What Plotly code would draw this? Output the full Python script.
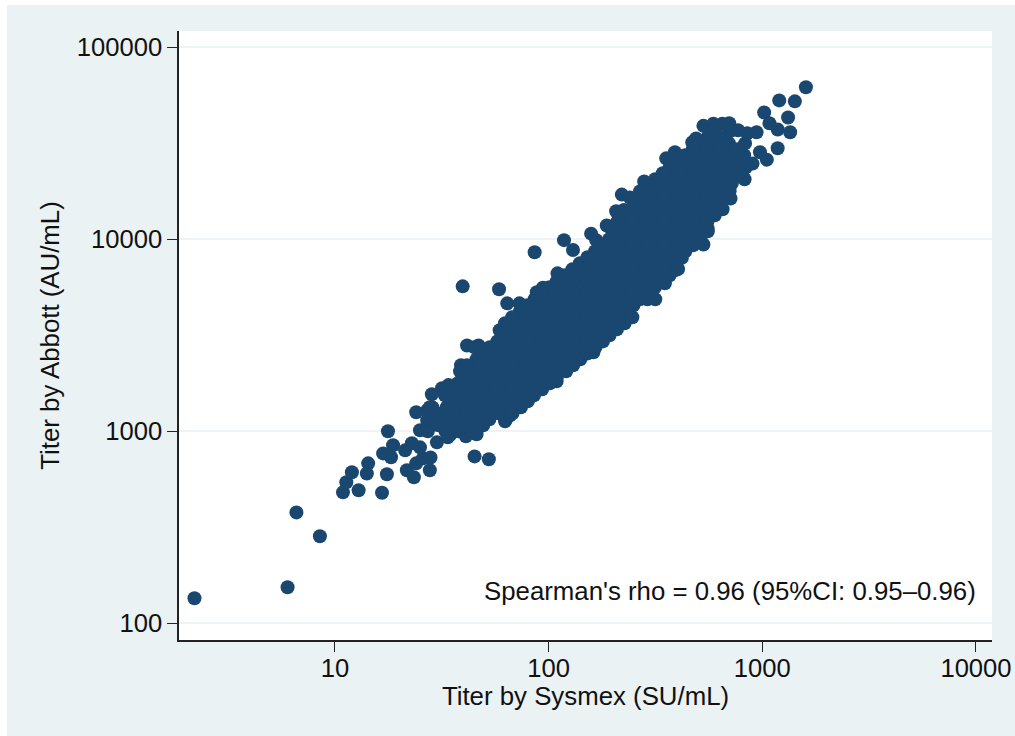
import plotly.graph_objects as go

x_tick_values = [10, 100, 1000, 10000]
y_tick_values = [100, 1000, 10000, 100000]

low_tail = [
    (2.2, 135), (6.0, 154), (6.6, 378), (8.5, 284), (10.9, 481), (12.9, 493), (16.6, 479),
    (11.3, 543), (12.0, 612), (14.1, 603), (14.3, 681), (17.5, 597), (17.7, 1000), (16.8, 767),
    (18.3, 732), (18.7, 846), (21.3, 796), (22.9, 866), (25, 825), (21.7, 627), (23.4, 576),
    (24, 681), (25.8, 723), (28, 731), (27.8, 627), (41, 942), (46, 965), (45, 740), (52.5, 715),
    (27, 1140), (29, 1110), (31, 1180), (33.5, 1330), (28.6, 1330), (36, 1570), (34.5, 955),
    (38, 1075), (44.5, 1100), (51, 1240), (58, 1365), (73, 1450),
]
stray_points = [
    (39.6, 5690), (58.6, 5490), (86, 8560), (118, 9900), (158, 10700), (187, 11800),
    (207, 14000), (220, 17100), (280, 20000), (555, 11400), (530, 9400),
]
lower_edge = [
    (24, 1257), (28.4, 1560), (31.7, 1675), (34, 1740), (27, 1286), (25, 1012), (30, 876),
    (33.7, 930), (41.5, 1183), (49, 1183), (62.5, 1127), (66, 1212), (80, 1453), (89, 1735),
    (109, 1820), (129, 2290), (162, 2580), (180, 3480), (225, 3930), (290, 4870), (350, 5900),
    (390, 6900), (420, 8000), (470, 10500), (470, 11500), (490, 13000), (530, 14200),
    (630, 15600), (710, 16300), (720, 19600), (760, 22000), (810, 21200), (860, 24800),
]
upper_edge = [
    (38.9, 2207), (41.5, 2800), (47, 2800), (59, 3360), (64, 4640), (73, 4640), (88, 5300),
    (98, 5560), (113, 6500), (94, 5600), (110, 6650), (130, 8800), (167, 9900), (225, 14200),
    (240, 16500), (320, 20200), (355, 26400), (370, 24300), (390, 28400), (470, 32000),
    (490, 33500), (530, 39000), (590, 40000), (650, 40000), (700, 40200), (770, 37000),
]
top_tail = [
    (1600, 61900), (1200, 52900), (1420, 52300), (1320, 43100), (1020, 45800), (1350, 36100),
    (1080, 40200), (1180, 37300), (940, 36100), (850, 35700), (1180, 29800), (1050, 26000),
    (975, 28400), (900, 24800),
]
body_low = [
    (27.8, 1334), (28.6, 1155), (27.2, 1000), (32.7, 1540), (33.4, 1334), (32.1, 1155), (32.9, 1000),
    (38.5, 2055), (37.6, 1780), (39.2, 1540), (38.1, 1334), (39, 1155), (37.8, 1000),
    (45, 2740), (46, 2375), (44.2, 2055), (45.6, 1780), (44.5, 1540), (46.2, 1334), (45.2, 1155), (44, 1010),
    (53, 2740), (52, 2375), (54, 2055), (53.2, 1780), (52.4, 1540), (54.3, 1334), (52.8, 1155),
    (62.5, 3655), (61.5, 3165), (63.5, 2740), (62, 2375), (63, 2055), (61.8, 1780), (62.8, 1540), (61.6, 1334), (63.2, 1155),
    (73.5, 4220), (72.5, 3655), (74.5, 3165), (73, 2740), (74, 2375), (72.8, 2055), (73.8, 1780), (72.6, 1540), (74.2, 1334),
    (86, 4870), (85, 4220), (87, 3655), (85.6, 3165), (86.6, 2740), (85.2, 2375), (87.2, 2055), (86.2, 1780), (85.4, 1540),
    (101, 5625), (100, 4870), (102, 4220), (99, 3655), (101.5, 3165), (100.4, 2740), (102.5, 2375), (99.6, 2055), (101.2, 1780),
]
body_mid = [
    (119, 6500), (117.5, 5625), (120.5, 4870), (118, 4220), (120, 3655), (118.6, 3165), (119.6, 2740), (117.8, 2375), (120.8, 2055),
    (140, 7500), (138, 6500), (142, 5625), (139, 4870), (141, 4220), (138.6, 3655), (141.6, 3165), (139.4, 2740), (140.6, 2375),
    (165, 8660), (163, 7500), (167, 6500), (164, 5625), (166, 4870), (163.5, 4220), (166.5, 3655), (164.5, 3165), (165.5, 2740),
    (194, 11550), (192, 10000), (196, 8660), (193, 7500), (195, 6500), (192.5, 5625), (195.5, 4870), (193.5, 4220), (194.5, 3655), (192.8, 3165),
    (228, 13340), (226, 11550), (230, 10000), (227, 8660), (229, 7500), (226.5, 6500), (229.5, 5625), (227.5, 4870), (228.5, 4220), (226.8, 3655),
    (268, 17800), (265, 15400), (271, 13340), (266, 11550), (270, 10000), (267, 8660), (269, 7500), (265.5, 6500), (270.5, 5625), (267.5, 4870),
]
body_high = [
    (315, 20550), (312, 17800), (318, 15400), (313, 13340), (317, 11550), (314, 10000), (316, 8660), (312.5, 7500), (317.5, 6500), (314.5, 5625), (315.5, 4870),
    (370, 23700), (366, 20550), (374, 17800), (368, 15400), (372, 13340), (367, 11550), (373, 10000), (369, 8660), (371, 7500), (368.5, 6500),
    (435, 27400), (431, 23700), (439, 20550), (433, 17800), (437, 15400), (432, 13340), (438, 11550), (434, 10000), (436, 8660),
    (512, 31600), (507, 27400), (517, 23700), (509, 20550), (515, 17800), (508, 15400), (516, 13340), (511, 11550), (513, 10000),
    (600, 36500), (594, 31600), (606, 27400), (597, 23700), (603, 20550), (595, 17800), (605, 15400), (599, 13340),
    (705, 36500), (698, 31600), (712, 27400), (701, 23700), (709, 20550), (703, 17800),
    (830, 31600), (822, 27400), (838, 23700), (826, 20550),
]
fill_low = [
    (30, 1240), (30.5, 1075), (35.5, 1655), (35, 1435), (36, 1240), (35.2, 1075),
    (41.5, 2205), (41, 1910), (42, 1655), (41.2, 1435), (41.8, 1240), (40.8, 1075),
    (49, 2545), (48.4, 2205), (49.6, 1910), (48.8, 1655), (49.2, 1435), (48.6, 1240), (49.4, 1075),
    (57.5, 2940), (56.8, 2545), (58, 2205), (57, 1910), (57.8, 1655), (56.6, 1435), (58.2, 1240),
    (67.5, 3925), (66.6, 3400), (68.4, 2940), (67, 2545), (68, 2205), (66.8, 1910), (68.2, 1655), (67.2, 1435), (67.8, 1240),
    (79.5, 4530), (78.5, 3925), (80.5, 3400), (79, 2940), (80, 2545), (78.8, 2205), (80.2, 1910), (79.2, 1655), (79.8, 1435),
    (93, 5230), (92, 4530), (94, 3925), (92.5, 3400), (93.5, 2940), (92.2, 2545), (93.8, 2205), (92.8, 1910), (93.2, 1655),
    (109, 6040), (108, 5230), (110, 4530), (108.5, 3925), (109.5, 3400), (108.2, 2940), (109.8, 2545), (108.8, 2205), (109.2, 1910),
]
fill_mid = [
    (129, 6975), (127.5, 6040), (130.5, 5230), (128, 4530), (130, 3925), (128.6, 3400), (129.6, 2940), (127.8, 2545), (130.2, 2205),
    (152, 8060), (150, 6975), (154, 6040), (151, 5230), (153, 4530), (150.5, 3925), (153.5, 3400), (151.5, 2940), (152.5, 2545),
    (179, 9300), (177, 8060), (181, 6975), (178, 6040), (180, 5230), (177.5, 4530), (180.5, 3925), (178.5, 3400), (179.5, 2940),
    (210, 12400), (208, 10750), (212, 9300), (209, 8060), (211, 6975), (208.5, 6040), (211.5, 5230), (209.5, 4530), (210.5, 3925), (208.8, 3400),
    (247, 14350), (244, 12400), (250, 10750), (245, 9300), (249, 8060), (246, 6975), (248, 6040), (244.5, 5230), (249.5, 4530), (246.5, 3925),
]
fill_high = [
    (290, 19100), (287, 16550), (293, 14350), (288, 12400), (292, 10750), (289, 9300), (291, 8060), (287.5, 6975), (292.5, 6040), (289.5, 5230),
    (342, 22100), (338, 19100), (346, 16550), (340, 14350), (344, 12400), (339, 10750), (345, 9300), (341, 8060), (343, 6975), (340.5, 6040),
    (405, 25500), (401, 22100), (409, 19100), (403, 16550), (407, 14350), (402, 12400), (408, 10750), (404, 9300), (406, 8060), (403.5, 7000),
    (473, 29450), (468, 25500), (478, 22100), (470, 19100), (476, 16550), (469, 14350), (477, 12400), (472, 10750), (474, 9300),
    (555, 34000), (549, 29450), (561, 25500), (552, 22100), (558, 19100), (550, 16550), (560, 14350), (554, 12400), (556, 11000),
    (650, 34000), (643, 29450), (657, 25500), (646, 22100), (654, 19100), (648, 16550), (652, 14350),
    (765, 29450), (757, 25500), (773, 22100),
]

groups = [low_tail, stray_points, lower_edge, upper_edge, top_tail, body_low, body_mid, body_high,
          fill_low, fill_mid, fill_high]
sysmex_titer = [p[0] for g in groups for p in g]
abbott_titer = [p[1] for g in groups for p in g]

INK = "#111111"
fig = go.Figure(go.Scatter(
    x=sysmex_titer, y=abbott_titer, mode="markers",
    marker=dict(color="#1A476F", size=14, line=dict(width=0)),
    hoverinfo="skip", showlegend=False,
))
axis_style = dict(
    type="log", showline=True, linecolor="#222222", linewidth=1.5,
    ticks="outside", ticklen=10, tickwidth=1, tickcolor="#222222",
    tickfont=dict(family="Liberation Sans", size=25.6, color=INK),
    zeroline=False, automargin=False,
)
fig.update_xaxes(
    **axis_style, range=[0.27, 4.075], tickvals=x_tick_values,
    ticktext=[str(v) for v in x_tick_values], showgrid=False, ticklabelstandoff=-5,
    title=dict(text="Titer by Sysmex (SU/mL)", standoff=0,
               font=dict(family="Liberation Sans", size=25.8, color=INK)),
)
fig.update_yaxes(
    **axis_style, range=[1.913, 5.085], tickvals=y_tick_values,
    ticktext=[str(v) for v in y_tick_values],
    showgrid=True, gridcolor="#EEF4F6", gridwidth=2,
    title=dict(text="Titer by Abbott (AU/mL)", standoff=10,
               font=dict(family="Liberation Sans", size=25.8, color=INK)),
)
fig.update_layout(
    width=1015, height=736, autosize=False,
    margin=dict(l=179, r=23, t=31, b=96, pad=0),
    paper_bgcolor="#EAF2F3", plot_bgcolor="#FFFFFF",
    annotations=[dict(
        text="Spearman's rho = 0.96 (95%CI: 0.95–0.96)",
        xref="paper", yref="paper", x=0.983, y=0.08,
        xanchor="right", yanchor="middle", showarrow=False,
        font=dict(family="Liberation Sans", size=25.8, color=INK),
    )],
    shapes=[
        dict(type="rect", xref="paper", yref="paper", layer="below", line_width=0,
             fillcolor="#FFFFFF", x0=-179/813, x1=-172/813, y0=-96/609, y1=(609+31)/609),
        dict(type="rect", xref="paper", yref="paper", layer="below", line_width=0,
             fillcolor="#FFFFFF", x0=-179/813, x1=(813+23)/813, y0=(609+26)/609, y1=(609+31)/609),
    ],
)
fig.write_html("out.html", config={"displayModeBar": False, "responsive": False},
               post_script="document.body.style.margin='0';document.body.style.overflow='hidden';")
